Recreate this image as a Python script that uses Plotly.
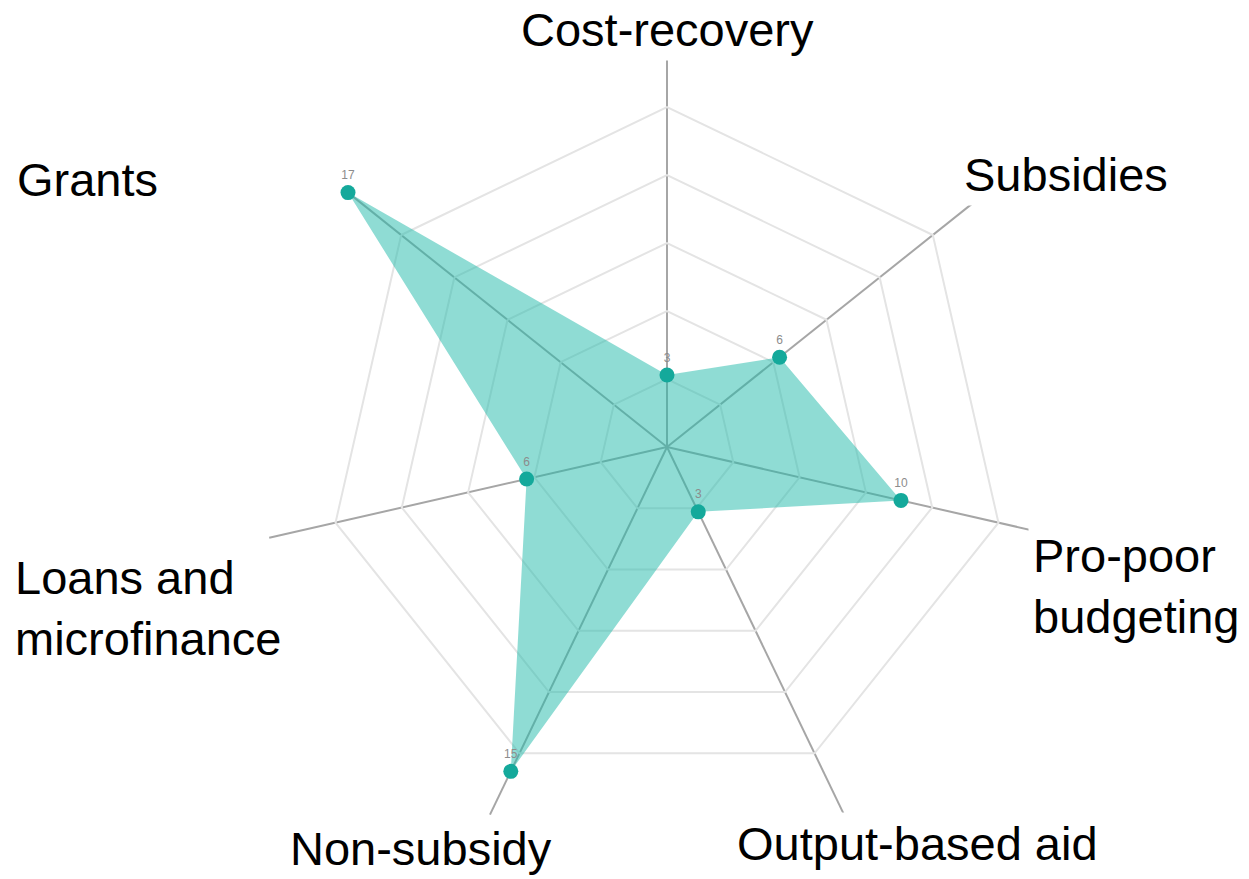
import plotly.graph_objects as go

# Financing mechanisms and the number of cases recorded for each
categories = [
    "Cost-recovery",
    "Subsidies",
    "Pro-poor budgeting",
    "Output-based aid",
    "Non-subsidy",
    "Loans and microfinance",
    "Grants",
]
counts = [3, 6, 10, 3, 15, 6, 17]

# Axis labels drawn around the chart (with line breaks)
axis_labels = [
    "Cost-recovery",
    "Subsidies",
    "Pro-poor<br>budgeting",
    "Output-based aid",
    "Non-subsidy",
    "Loans and<br>microfinance",
    "Grants",
]

W, H = 1249, 879
cx, cy, R = 667, 447, 408
r_max = 17
n_rings = 6

theta = categories + [categories[0]]
r = counts + [counts[0]]

fig = go.Figure()
# filled polygon
fig.add_trace(go.Scatterpolar(
    r=r,
    theta=theta,
    mode="none",
    fill="toself",
    fillcolor="rgba(32,185,170,0.5)",
    hoverinfo="skip",
))
# points with their value shown above
fig.add_trace(go.Scatterpolar(
    r=counts,
    theta=categories,
    mode="markers+text",
    marker=dict(size=15, color="#14a99b"),
    text=[str(v) for v in counts],
    textposition="top center",
    textfont=dict(family="Liberation Sans, Arial, sans-serif", size=12, color="#8c8c8c"),
    hoverinfo="skip",
))

ring_vals = [r_max * k / n_rings for k in range(1, n_rings)]

fig.update_layout(
    width=W,
    height=H,
    margin=dict(l=0, r=0, t=0, b=0),
    paper_bgcolor="white",
    plot_bgcolor="white",
    showlegend=False,
    polar=dict(
        domain=dict(x=[(cx - R) / W, (cx + R) / W], y=[1 - (cy + R) / H, 1 - (cy - R) / H]),
        bgcolor="white",
        gridshape="linear",
        radialaxis=dict(
            range=[0, r_max],
            tickvals=ring_vals,
            showticklabels=False,
            ticks="",
            showline=False,
            gridcolor="#e4e4e4",
            gridwidth=1.5,
        ),
        angularaxis=dict(
            direction="clockwise",
            rotation=90,
            showticklabels=False,
            ticks="",
            showline=False,
            gridcolor="#a6a6a6",
            gridwidth=2,
        ),
    ),
)

label_font = dict(family="Liberation Sans, Arial, sans-serif", size=47, color="black")

# (label, x px, y px, horizontal anchor)
label_pos = [
    (axis_labels[0], 668, 29, "center"),
    (axis_labels[1], 1066, 174, "center"),
    (axis_labels[2], 1028, 586, "left"),
    (axis_labels[3], 917, 843, "center"),
    (axis_labels[4], 421, 848, "center"),
    (axis_labels[5], 10, 608, "left"),
    (axis_labels[6], 87, 180, "center"),
]
for text, x, y, xa in label_pos:
    fig.add_annotation(
        x=x / W, y=1 - y / H, xref="paper", yref="paper",
        text=text, showarrow=False, xanchor=xa, yanchor="middle", align="left",
        font=label_font, bgcolor="white", borderpad=4,
    )

fig.write_html("out.html")
